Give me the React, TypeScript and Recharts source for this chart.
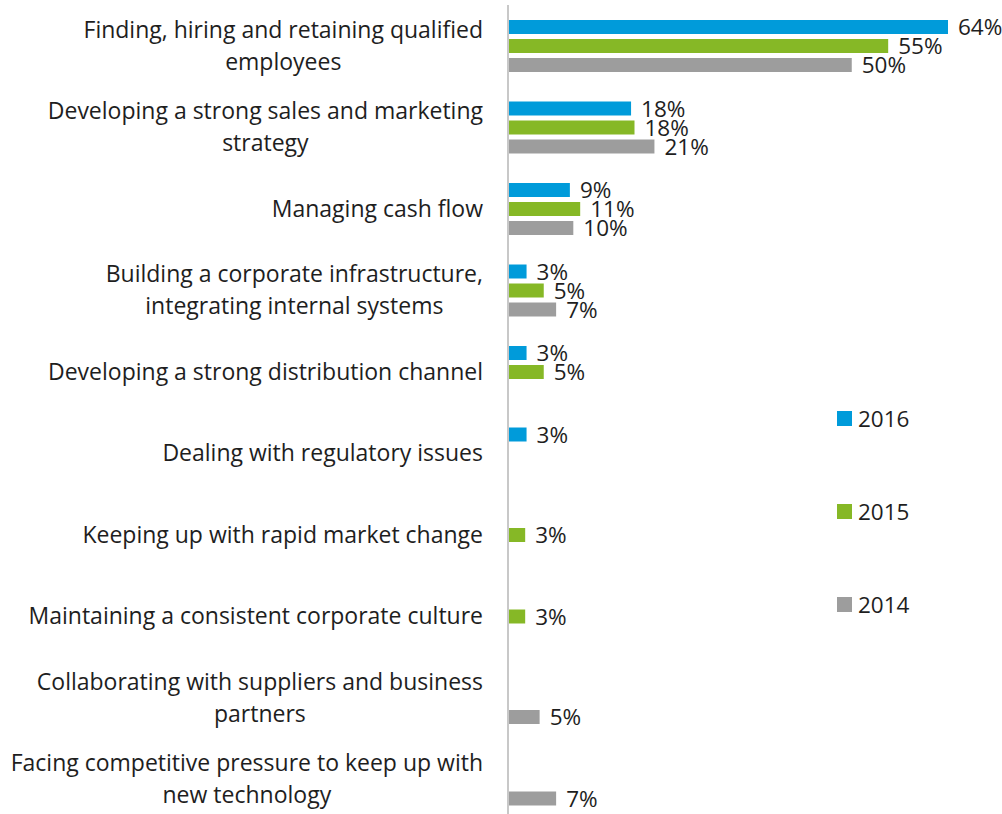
import React from 'react';
import { BarChart, Bar, XAxis, YAxis, Legend, LabelList } from 'recharts';

const categories = [
  'Finding, hiring and retaining qualified\nemployees',
  'Developing a strong sales and marketing\nstrategy',
  'Managing cash flow',
  'Building a corporate infrastructure,\nintegrating internal systems',
  'Developing a strong distribution channel',
  'Dealing with regulatory issues',
  'Keeping up with rapid market change',
  'Maintaining a consistent corporate culture',
  'Collaborating with suppliers and business\npartners',
  'Facing competitive pressure to keep up with\nnew technology',
];

const series2016: (number | null)[] = [64, 17.9, 9, 2.7, 2.7, 2.7, null, null, null, null];
const series2015: (number | null)[] = [55.3, 18.4, 10.5, 5.2, 5.2, null, 2.5, 2.5, null, null];
const series2014: (number | null)[] = [50, 21.3, 9.5, 7, null, null, null, null, 4.6, 7];

const seriesNames = ['2016', '2015', '2014'];
const colors = ['#009BDA', '#86B826', '#9D9D9D'];

const data = categories.map((c, i) => ({
  category: c,
  y2016: series2016[i],
  y2015: series2015[i],
  y2014: series2014[i],
}));

const FONT = "'Open Sans', sans-serif";
const TEXT = '#1e1e1e';

let ctx: CanvasRenderingContext2D | null = null;
function measure(t: string, size: number) {
  if (!ctx) {
    const c = document.createElement('canvas');
    ctx = c.getContext('2d');
  }
  if (!ctx) return t.length * size * 0.5;
  ctx.font = `${size}px 'Open Sans'`;
  return ctx.measureText(t).width;
}

const TICK_SIZE = 23;
const VALUE_SIZE = 22.5;
const LINE_H = 32;

const CategoryTick = (props: any) => {
  const { y, payload } = props;
  const lines: string[] = String(payload.value).split('\n');
  const right = 483;
  const maxW = Math.max(...lines.map((l) => measure(l, TICK_SIZE)));
  const cx = right - maxW / 2;
  const n = lines.length;
  return (
    <g>
      {lines.map((l, i) => (
        <text
          key={i}
          x={cx}
          y={y + (i - (n - 1) / 2) * LINE_H + TICK_SIZE * 0.34}
          textAnchor="middle"
          fontFamily={FONT}
          fontSize={TICK_SIZE}
          fill={TEXT}
        >
          {l}
        </text>
      ))}
    </g>
  );
};

const ValueLabel = (props: any) => {
  const { x, y, width, height, value } = props;
  if (value === null || value === undefined) return null;
  return (
    <text
      x={x + width + 10}
      y={y + height / 2 + 8}
      fontFamily={FONT}
      fontSize={VALUE_SIZE}
      fill={TEXT}
      textAnchor="start"
    >
      {`${Math.round(value)}%`}
    </text>
  );
};

const LegendContent = (props: any) => {
  const raw = props.payload || [];
  const items = seriesNames
    .map((n) => raw.find((it: any) => it.value === n))
    .filter(Boolean);
  return (
    <div>
      {items.map((it: any, i: number) => (
        <div
          key={i}
          style={{
            display: 'flex',
            alignItems: 'center',
            height: 30,
            marginBottom: i < items.length - 1 ? 63 : 0,
            fontFamily: FONT,
            fontSize: VALUE_SIZE,
            color: TEXT,
          }}
        >
          <span style={{ width: 15, height: 15, background: it.color, display: 'inline-block', marginRight: 6 }} />
          <span>{it.value}</span>
        </div>
      ))}
    </div>
  );
};

export default function App() {
  return (
    <div style={{ position: 'absolute', left: 0, top: 0 }}>
      <BarChart
        width={1002}
        height={822}
        data={data}
        layout="vertical"
        margin={{ top: 5, right: 54, bottom: 2, left: 0 }}
        barSize={14}
        barGap={5}
      >
        <XAxis type="number" domain={[0, 64]} hide />
        <YAxis
          type="category"
          dataKey="category"
          width={508}
          axisLine={{ stroke: '#C8C8C8', strokeWidth: 2 }}
          tickLine={false}
          tick={<CategoryTick />}
          interval={0}
        />
        <Legend
          layout="vertical"
          align="center"
          verticalAlign="middle"
          content={<LegendContent />}
          wrapperStyle={{ position: 'absolute', left: 837, top: 403, width: 120 }}
        />
        <Bar dataKey="y2016" name={seriesNames[0]} fill={colors[0]} isAnimationActive={false}>
          <LabelList dataKey="y2016" content={<ValueLabel />} />
        </Bar>
        <Bar dataKey="y2015" name={seriesNames[1]} fill={colors[1]} isAnimationActive={false}>
          <LabelList dataKey="y2015" content={<ValueLabel />} />
        </Bar>
        <Bar dataKey="y2014" name={seriesNames[2]} fill={colors[2]} isAnimationActive={false}>
          <LabelList dataKey="y2014" content={<ValueLabel />} />
        </Bar>
      </BarChart>
    </div>
  );
}
